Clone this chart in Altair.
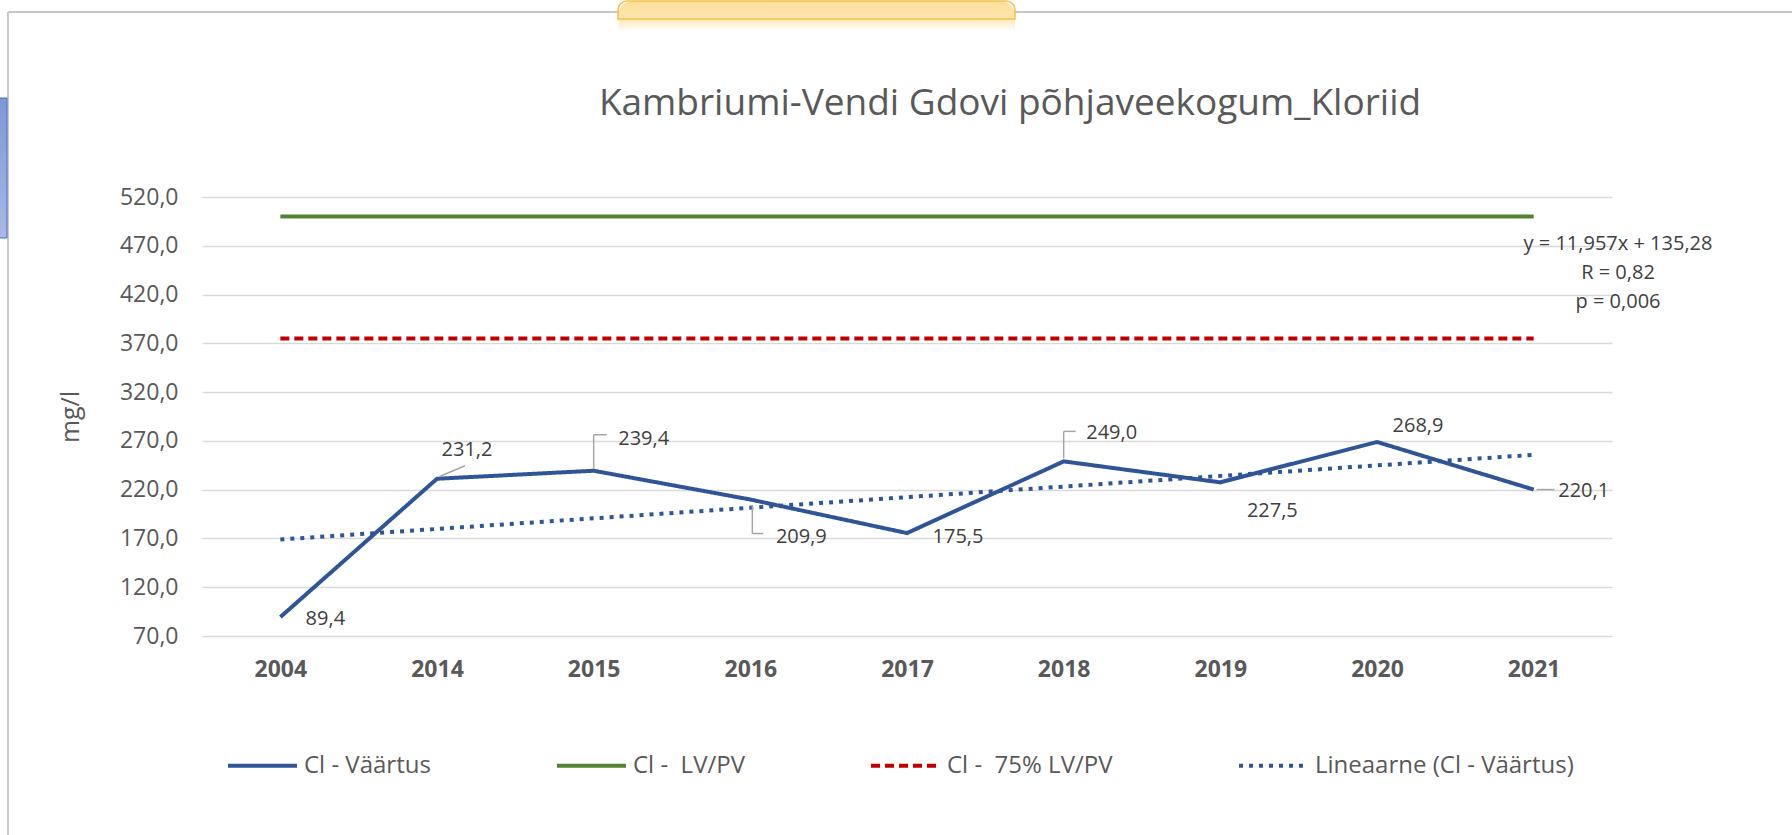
import json
import altair as alt
import pandas as pd

# ---------------- data ----------------
TITLE = "Kambriumi-Vendi Gdovi põhjaveekogum_Kloriid"
YEARS = ["2004", "2014", "2015", "2016", "2017", "2018", "2019", "2020", "2021"]
IDX = [1, 2, 3, 4, 5, 6, 7, 8, 9]
CL_VALUES = [89.4, 231.2, 239.4, 209.9, 175.5, 249.0, 227.5, 268.9, 220.1]
LV_PV = [500.0, 500.0, 500.0, 500.0, 500.0, 500.0, 500.0, 500.0, 500.0]
LV_PV_75 = [375.0, 375.0, 375.0, 375.0, 375.0, 375.0, 375.0, 375.0, 375.0]
SERIES = ["Cl - Väärtus", "Cl - \u00a0LV/PV", "Cl - \u00a075% LV/PV", "Lineaarne (Cl - Väärtus)"]
Y_TICKS = [70, 120, 170, 220, 270, 320, 370, 420, 470, 520]
Y_TITLE = "mg/l"
TREND_TEXT = ["y = 11,957x + 135,28", "R = 0,82", "p = 0,006"]

# ---------------- styles ----------------
COLORS = ["#2f5597", "#548235", "#c00000", "#2f5597"]
DASHES = [[1, 0], [1, 0], [9, 5], [4, 6]]
TEXT_GRAY = "#595959"
FONT = "Open Sans"
LABEL_DX = [45, 30, 50, 51, 51, 48, 52, 41, 50]
LABEL_DY = [2, -29, -32, 37, 4, -28, 29, -16, 1]
# (point index, x1 offset, y1 offset, x2 offset, y2 offset)
LEADERS = [
    (2, 2, -2, 28, -13),
    (3, 0, -2, 0, -36),
    (3, 0, -36, 13, -36),
    (4, 2, 6, 2, 34),
    (4, 2, 34, 13, 34),
    (6, 0, -3, 0, -30),
    (6, 0, -30, 12, -30),
    (9, 3, 0, 21, 0),
]

W, H = 1410, 439
PAD = {"left": 202, "top": 197, "right": 180, "bottom": 199}

base_df = pd.DataFrame({"idx": IDX, "year": YEARS, "value": CL_VALUES})
rows = []
for name, vals in zip(SERIES[:3], [CL_VALUES, LV_PV, LV_PV_75]):
    for i, v in zip(IDX, vals):
        rows.append({"idx": i, "series": name, "value": v})
long_df = pd.DataFrame(rows)

fmt_expr = "replace(format(datum.value, '.1f'), '.', ',')"

x_enc = alt.X(
    "idx:Q",
    scale=alt.Scale(domain=[0.5, 9.5], nice=False, zero=False),
    axis=alt.Axis(
        values=IDX,
        labelExpr=json.dumps(YEARS) + "[datum.value - 1]",
        title=None, grid=False, domain=False, ticks=False,
        labelFont=FONT, labelFontSize=23, labelFontWeight="bold",
        labelColor=TEXT_GRAY, labelPadding=22,
    ),
)
y_enc = alt.Y(
    "value:Q",
    scale=alt.Scale(domain=[70, 520], nice=False, zero=False),
    axis=alt.Axis(
        values=Y_TICKS, labelExpr=fmt_expr,
        title=Y_TITLE, titleFont=FONT, titleFontSize=25, titleFontWeight="normal",
        titleColor=TEXT_GRAY, titlePadding=36,
        grid=True, gridColor="#d9d9d9", gridWidth=1.5,
        domain=False, ticks=False,
        labelFont=FONT, labelFontSize=23, labelColor=TEXT_GRAY, labelPadding=24,
    ),
)
legend = alt.Legend(
    title=None, orient="none", legendX=24, legendY=532, direction="horizontal",
    symbolType="stroke", symbolSize=4761, symbolStrokeWidth=4,
    labelFont=FONT, labelFontSize=24, labelColor=TEXT_GRAY,
    columnPadding=118, labelOffset=5, labelLimit=0,
)
color_enc = alt.Color("series:N", scale=alt.Scale(domain=SERIES, range=COLORS), legend=legend)
dash_enc = alt.StrokeDash("series:N", scale=alt.Scale(domain=SERIES, range=DASHES), legend=legend)

lines = alt.Chart(long_df).mark_line(strokeWidth=4).encode(
    x=x_enc, y=y_enc, color=color_enc, strokeDash=dash_enc, order="idx:Q"
)

trend = (
    alt.Chart(base_df)
    .transform_regression("idx", "value")
    .transform_calculate(series="'" + SERIES[3] + "'")
    .mark_line(strokeWidth=4)
    .encode(x=x_enc, y=y_enc, color=color_enc, strokeDash=dash_enc)
)

leader_layers = []
for (i, x1, y1, x2, y2) in LEADERS:
    leader_layers.append(
        alt.Chart(base_df)
        .transform_filter(f"datum.idx == {i}")
        .mark_rule(xOffset=x1, yOffset=y1, x2Offset=x2, y2Offset=y2,
                   color="#a6a6a6", strokeWidth=1.5)
        .encode(x=x_enc, x2="idx:Q", y=y_enc, y2="value:Q")
    )

label_layers = []
for i, (dx, dy) in enumerate(zip(LABEL_DX, LABEL_DY)):
    label_layers.append(
        alt.Chart(base_df)
        .transform_filter(f"datum.idx == {i + 1}")
        .transform_calculate(label=fmt_expr)
        .mark_text(dx=dx, dy=dy, font=FONT, fontSize=20, color="#404040",
                   align="center", baseline="middle")
        .encode(x=x_enc, y=y_enc, text="label:N")
    )

annot = alt.Chart(alt.Data(values=[{"t": TREND_TEXT}])).mark_text(
    font=FONT, fontSize=20, color="#404040", align="center",
    baseline="alphabetic", lineHeight=29,
).encode(x=alt.value(1416), y=alt.value(53), text="t:N")

# screenshot frame decorations
deco_data = alt.Data(values=[{"a": 1}])
frame_top = alt.Chart(deco_data).mark_rule(color="#c8c8c8", strokeWidth=2).encode(
    x=alt.value(-194), x2=alt.value(1590), y=alt.value(-185))
frame_left = alt.Chart(deco_data).mark_rule(color="#c8c8c8", strokeWidth=2).encode(
    x=alt.value(-194), y=alt.value(-185), y2=alt.value(638))
blue_box = alt.Chart(deco_data).mark_rect(
    fill=alt.Gradient(gradient="linear", stops=[alt.GradientStop(color="#7f97d6", offset=0),
                                               alt.GradientStop(color="#aab8e6", offset=1)],
                      x1=0, x2=0, y1=0, y2=1),
    stroke="#4a6fc4", strokeWidth=1,
).encode(x=alt.value(-203), x2=alt.value(-195), y=alt.value(-99), y2=alt.value(41))
tab = alt.Chart(deco_data).mark_rect(
    fill=alt.Gradient(gradient="linear", stops=[alt.GradientStop(color="#fde09a", offset=0),
                                               alt.GradientStop(color="#fee6ae", offset=0.55),
                                               alt.GradientStop(color="#fff6e4", offset=0.85),
                                               alt.GradientStop(color="#ffffff", offset=1)],
                      x1=0, x2=0, y1=0, y2=1),
    cornerRadiusTopLeft=16, cornerRadiusTopRight=16,
).encode(x=alt.value(416), x2=alt.value(813), y=alt.value(-196), y2=alt.value(-166))
tab_edge = alt.Chart(deco_data).mark_rect(
    fill="transparent", stroke="#f2c14e", strokeWidth=1.5,
    cornerRadiusTopLeft=16, cornerRadiusTopRight=16,
).encode(x=alt.value(416), x2=alt.value(813), y=alt.value(-196), y2=alt.value(-178))

chart = alt.layer(
    frame_top, frame_left, blue_box, tab, tab_edge,
    lines, trend, *leader_layers, *label_layers, annot,
).properties(
    width=W, height=H, padding=PAD,
    autosize=alt.AutoSizeParams(type="none"),
    background="white",
    title=alt.TitleParams(
        TITLE, font=FONT, fontSize=37, fontWeight="normal", color=TEXT_GRAY,
        anchor="middle", frame="group", dx=103, baseline="alphabetic", offset=-152,
    ),
).configure_view(strokeWidth=0)

chart.save("out.html", embed_options={"renderer": "svg", "actions": False})
